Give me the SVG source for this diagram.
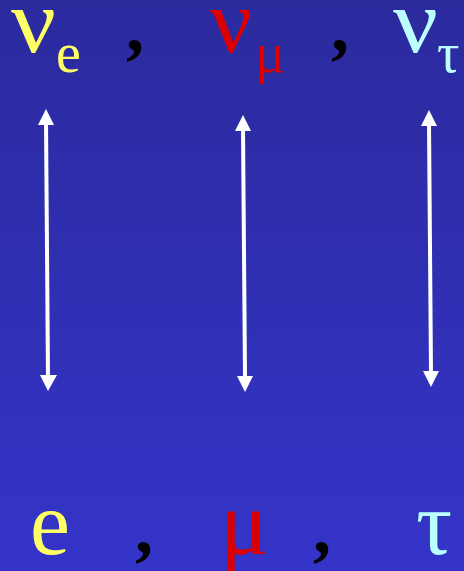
<svg xmlns="http://www.w3.org/2000/svg" width="464" height="571" viewBox="0 0 464 571">
<defs>
<linearGradient id="bg" x1="0" y1="0" x2="0" y2="1">
<stop offset="0" stop-color="#2b2a9d"/>
<stop offset="1" stop-color="#3434c9"/>
</linearGradient>
<style>
text{font-family:"Liberation Serif","Times New Roman",serif;}
.big{font-size:90px;}
.sub{font-size:56px;}
.comma{font-size:72px;font-weight:bold;fill:#000;}
.y{fill:#ffff66;}
.r{fill:#dd0000;}
.c{fill:#bbffff;}
.arr line{stroke:#fff;stroke-width:4;}
.arr polygon{fill:#fff;}
</style>
</defs>
<rect width="464" height="571" fill="url(#bg)"/>
<g id="top">
<text class="big y" x="11" y="52" textLength="45" lengthAdjust="spacingAndGlyphs">ν</text>
<text class="sub y" x="56" y="72">e</text>
<text class="comma" x="126" y="51">,</text>
<text class="big r" x="210" y="52" textLength="42" lengthAdjust="spacingAndGlyphs">ν</text>
<text class="sub r" x="255" y="72">μ</text>
<text class="comma" x="331" y="51">,</text>
<text class="big c" x="393" y="52" textLength="45" lengthAdjust="spacingAndGlyphs">ν</text>
<text class="sub c" x="437" y="72">τ</text>
</g>
<g id="bottom">
<text class="big y" x="30" y="554">e</text>
<text class="comma" x="135" y="553">,</text>
<text class="big r" x="220" y="554">μ</text>
<text class="comma" x="313" y="553">,</text>
<text class="big c" x="416" y="554">τ</text>
</g>
<g id="connectors" class="arr">
<line x1="46" y1="122" x2="48" y2="377"/>
<polygon points="46,109 38,125 54,125"/>
<polygon points="48,391 40,375 57,375"/>
<line x1="243" y1="128" x2="245" y2="377"/>
<polygon points="243,115 235,131 251,131"/>
<polygon points="245,392 237,376 253,376"/>
<line x1="429" y1="123" x2="431" y2="373"/>
<polygon points="429,110 421,126 437,126"/>
<polygon points="431,387 423,371 439,371"/>
</g>
</svg>
